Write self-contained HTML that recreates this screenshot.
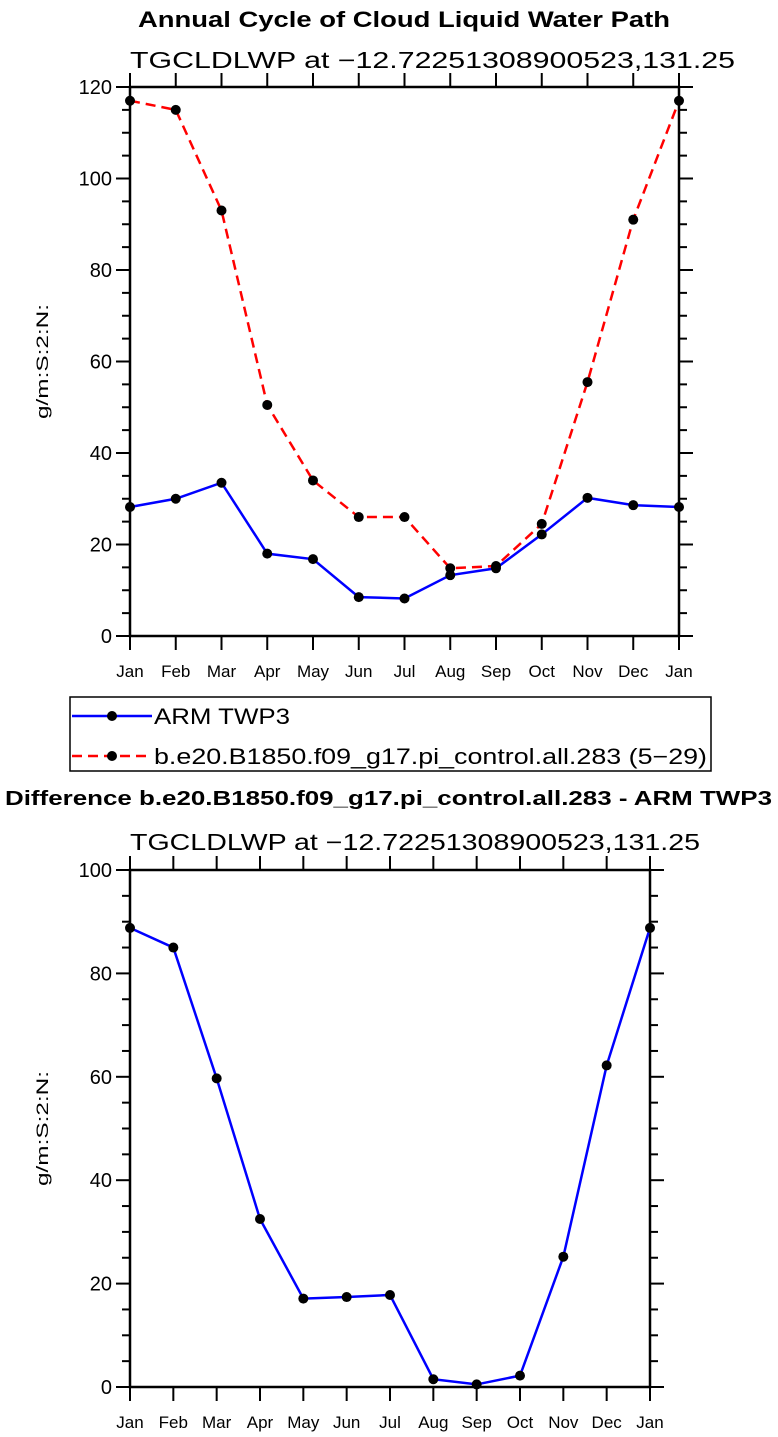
<!DOCTYPE html>
<html><head><meta charset="utf-8"><style>
html,body{margin:0;padding:0;background:#fff;}
svg{display:block;font-family:"Liberation Sans",sans-serif;}
</style></head><body>
<svg id="s" width="778" height="1437">
<text x="138" y="27" textLength="532" lengthAdjust="spacingAndGlyphs" font-size="22" font-weight="bold">Annual Cycle of Cloud Liquid Water Path</text>
<text x="130" y="68" textLength="605" lengthAdjust="spacingAndGlyphs" font-size="23">TGCLDLWP at −12.72251308900523,131.25</text>
<text x="5" y="805" textLength="767" lengthAdjust="spacingAndGlyphs" font-size="20" font-weight="bold">Difference b.e20.B1850.f09_g17.pi_control.all.283 - ARM TWP3</text>
<text x="130" y="850" textLength="570" lengthAdjust="spacingAndGlyphs" font-size="23">TGCLDLWP at −12.72251308900523,131.25</text>
<g id="top"></g>
<g id="bot"></g>
<g>
<rect x="70" y="697" width="641" height="74" fill="none" stroke="#000" stroke-width="1.5"/>
<g>
<line x1="72" y1="716" x2="152" y2="716" stroke="#00f" stroke-width="2.5"/><circle cx="112" cy="716" r="5"/>
<text x="154" y="724" textLength="136" lengthAdjust="spacingAndGlyphs" font-size="22">ARM TWP3</text></g>
<g>
<line x1="72" y1="756" x2="152" y2="756" stroke="#f00" stroke-width="2.5" stroke-dasharray="10,6"/><circle cx="112" cy="756" r="5"/>
<text x="154" y="764" textLength="553" lengthAdjust="spacingAndGlyphs" font-size="22">b.e20.B1850.f09_g17.pi_control.all.283 (5−29)</text></g>
</g>
</svg>
<script>
const months=["Jan","Feb","Mar","Apr","May","Jun","Jul","Aug","Sep","Oct","Nov","Dec","Jan"];
const armValues=[28.2,30,33.5,18,16.8,8.5,8.2,13.3,14.8,22.2,30.2,28.6,28.2];
const modelValues=[117,115,93,50.5,34,26,26,14.8,15.3,24.5,55.5,91,117];
const diffValues=[88.8,85,59.7,32.5,17.1,17.4,17.8,1.5,0.5,2.2,25.2,62.2,88.8];
const topTicks=[0,20,40,60,80,100,120];
const botTicks=[0,20,40,60,80,100];
const NS="http://www.w3.org/2000/svg";
function mk(p,t,a){const e=document.createElementNS(NS,t);for(const k in a)e.setAttribute(k,a[k]);p.appendChild(e);return e;}
function chart(g,x0,x1,y0,y1,ymax,ticks,series){
 const X=i=>x0+(x1-x0)*i/(months.length-1);
 const Y=v=>y1-(y1-y0)*v/ymax;
 const frame=mk(g,'rect',{x:x0,y:y0,width:x1-x0,height:y1-y0,fill:'none',stroke:'#000','stroke-width':2.5});
 
 
 for(let v=0;v<=ymax;v+=5){
  const maj=v%20===0,L=maj?14:8;
  mk(g,'line',{x1:x0-L,y1:Y(v),x2:x0,y2:Y(v),stroke:'#000','stroke-width':2});
  mk(g,'line',{x1:x1,y1:Y(v),x2:x1+L,y2:Y(v),stroke:'#000','stroke-width':2});
 }
 ticks.forEach(v=>{const t=mk(g,'text',{x:x0-18,y:Y(v)+7,'text-anchor':'end','font-size':20});t.textContent=v;
  
  });
 months.forEach((m,i)=>{mk(g,'line',{x1:X(i),y1:y1,x2:X(i),y2:y1+14,stroke:'#000','stroke-width':2});
  mk(g,'line',{x1:X(i),y1:y0,x2:X(i),y2:y0-14,stroke:'#000','stroke-width':2});
  const t=mk(g,'text',{x:X(i),y:y1+41,'text-anchor':'middle','font-size':17});t.textContent=m;
  
  });
 const yl=mk(g,'text',{x:0,y:0,'text-anchor':'middle','font-size':17,textLength:115,lengthAdjust:'spacingAndGlyphs',transform:`translate(${x0-82},${(y0+y1)/2}) rotate(-90)`});
 yl.textContent='g/m:S:2:N:';
 
 
 series.forEach(s=>{
  const pl=mk(g,'polyline',{points:s.v.map((v,i)=>X(i)+','+Y(v)).join(' '),fill:'none',stroke:s.c,'stroke-width':2.5,'stroke-dasharray':s.d||'none'});
  
  
  s.v.forEach((v,i)=>{const c=mk(g,'circle',{cx:X(i),cy:Y(v),r:5,fill:'#000'});
   
   });
 });
}
chart(document.getElementById('top'),130,679,87,636,120,topTicks,[{v:armValues,c:'#00f',n:'arm'},{v:modelValues,c:'#f00',d:'10,6',n:'model'}]);
chart(document.getElementById('bot'),130,650,870,1387,100,botTicks,[{v:diffValues,c:'#00f',n:'difference'}]);
</script>
</body></html>
